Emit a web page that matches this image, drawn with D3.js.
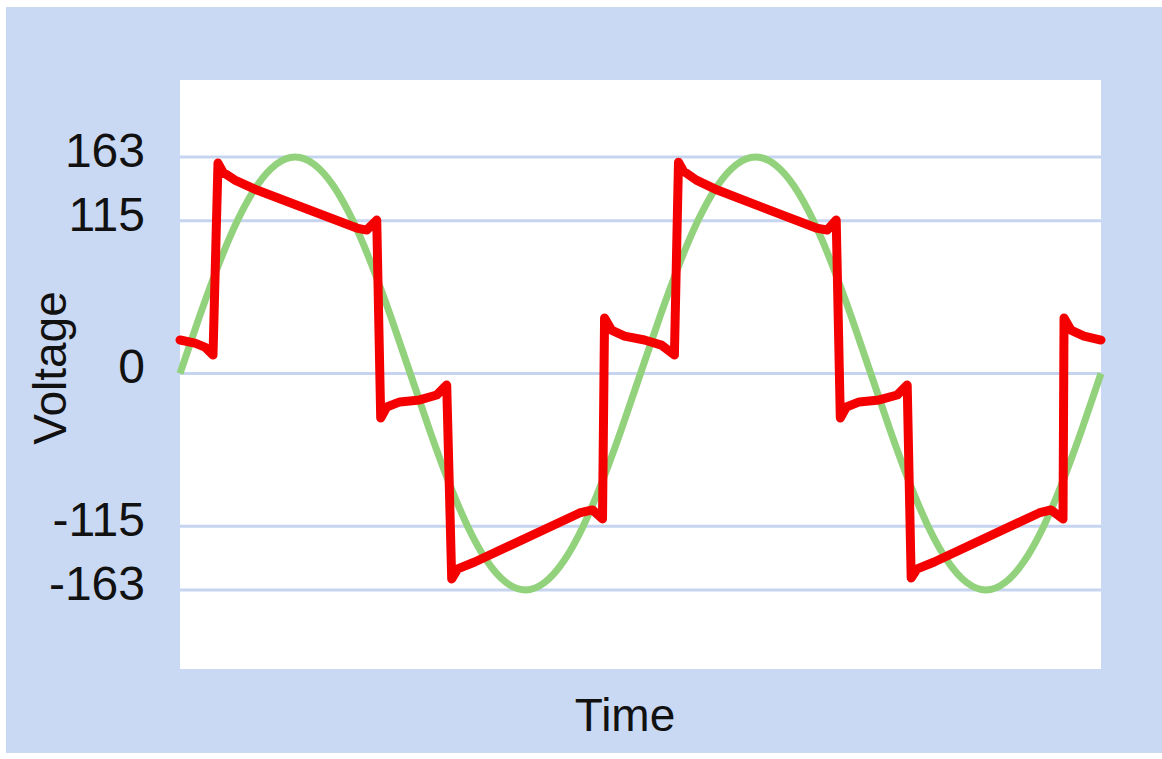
<!DOCTYPE html>
<html>
<head>
<meta charset="utf-8">
<script src="https://cdn.jsdelivr.net/npm/d3@7"></script>
<style>
  html, body { margin: 0; padding: 0; background: #ffffff; }
  svg { display: block; }
  text { font-family: "Liberation Sans", Arial, sans-serif; fill: #111; }
</style>
</head>
<body>
<svg id="chart" width="1162" height="759"></svg>
<script>
// ---- data ----
// time in degrees of the mains cycle (two cycles shown)
const tickValues = [163, 115, 0, -115, -163];
const tickLabels = ["163", "115", "0", "-115", "-163"];
const xLabel = "Time";
const yLabel = "Voltage";

// pure sine wave (green), sampled every 15 degrees
const sineTime = [0,15,30,45,60,75,90,105,120,135,150,165,180,195,210,225,240,255,270,285,300,315,330,345,
                  360,375,390,405,420,435,450,465,480,495,510,525,540,555,570,585,600,615,630,645,660,675,690,705,720];
const sineVolts = [0,42.2,81.5,115.3,141.2,157.4,163,157.4,141.2,115.3,81.5,42.2,0,-42.2,-81.5,-115.3,-141.2,-157.4,-163,-157.4,-141.2,-115.3,-81.5,-42.2,
                   0,42.2,81.5,115.3,141.2,157.4,163,157.4,141.2,115.3,81.5,42.2,0,-42.2,-81.5,-115.3,-141.2,-157.4,-163,-157.4,-141.2,-115.3,-81.5,-42.2,0];

// modified-sine inverter output (red)
const invTime = [0,11.7,19.5,25.8,29.7,33.6,42.9,60.1,138.2,146.0,153.8,
                 156.9,161.6,171.8,187.4,200.7,208.5,
                 212.4,217.1,230.4,312.4,322.5,330.3,
                 331.9,337.3,347.5,363.1,376.4,386.5,
                 389.7,393.6,403.7,420.1,497.4,506.0,513.0,
                 516.2,520.9,531.0,546.6,560.7,568.5,
                 571.6,576.3,589.6,671.6,680.9,690.3,
                 691.1,696.5,706.7,720];
const invVolts = [25.2,22.9,19.9,13.9,158.4,151.6,145.6,138.1,109.5,108.0,115.5,
                  -33.5,-25.2,-21.4,-19.9,-16.2,-8.7,
                  -154.7,-147.1,-141.9,-105.0,-102.7,-109.5,
                  41.8,32.7,28.2,25.2,21.4,13.9,
                  159.1,152.4,145.6,138.1,109.5,108.0,115.5,
                  -33.5,-25.2,-21.4,-19.9,-16.2,-8.7,
                  -153.9,-147.1,-141.9,-105.0,-102.7,-109.5,
                  41.8,32.7,28.2,25.2];

// ---- drawing ----
const svg = d3.select("#chart");
const plot = { left: 180, right: 1101, top: 80, bottom: 669 };

svg.append("rect").attr("x", 6).attr("y", 7).attr("width", 1156).attr("height", 746)
  .attr("fill", "#c9d8f3");
svg.append("rect").attr("x", plot.left).attr("y", plot.top)
  .attr("width", plot.right - plot.left).attr("height", plot.bottom - plot.top)
  .attr("fill", "#ffffff");

const x = d3.scaleLinear().domain([0, 720]).range([plot.left, plot.right]);
const y = d3.scaleLinear().domain([-163, 163]).range([590, 157]);

// gridlines
svg.append("g").selectAll("line").data(tickValues).join("line")
  .attr("x1", plot.left).attr("x2", plot.right)
  .attr("y1", d => y(d)).attr("y2", d => y(d))
  .attr("stroke", "#c6d4f0").attr("stroke-width", 3);

// y axis labels
const yAxis = d3.axisLeft(y).tickValues(tickValues)
  .tickFormat((d, i) => tickLabels[i]).tickSize(0).tickPadding(0);
const ya = svg.append("g").attr("transform", `translate(145,0)`).call(yAxis);
ya.select(".domain").remove();
ya.selectAll("text")
  .attr("font-size", 48).attr("font-family", "Liberation Sans, Arial, sans-serif")
  .attr("fill", "#111").attr("dy", "0.32em")
  .attr("transform", "translate(0,-6)");

// sine
const sineData = sineTime.map((t, i) => [t, sineVolts[i]]);
svg.append("path").datum(sineData)
  .attr("d", d3.line().x(d => x(d[0])).y(d => y(d[1])).curve(d3.curveNatural))
  .attr("fill", "none").attr("stroke", "#93d27c").attr("stroke-width", 7);

// inverter output
const invData = invTime.map((t, i) => [t, invVolts[i]]);
svg.append("path").datum(invData)
  .attr("d", d3.line().x(d => x(d[0])).y(d => y(d[1])))
  .attr("fill", "none").attr("stroke", "#f50000").attr("stroke-width", 9)
  .attr("stroke-linejoin", "round").attr("stroke-linecap", "round");

// axis titles
svg.append("text").attr("x", 625).attr("y", 731).attr("text-anchor", "middle")
  .attr("font-size", 46).text(xLabel);
svg.append("text").attr("transform", "translate(66,368) rotate(-90)")
  .attr("text-anchor", "middle").attr("font-size", 46).text(yLabel);
</script>
</body>
</html>
